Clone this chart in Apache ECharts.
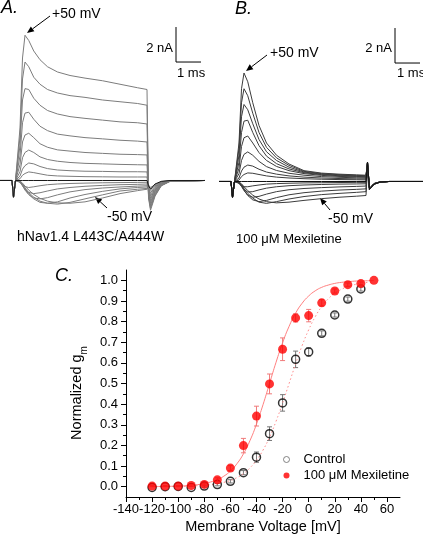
<!DOCTYPE html>
<html><head><meta charset="utf-8">
<script src="https://cdn.jsdelivr.net/npm/echarts@6/dist/echarts.min.js"></script>
<style>html,body{margin:0;padding:0;background:#fff}#c{width:423px;height:540px}</style>
</head><body><div id="c"></div>
<script>
const FONT = '"Liberation Sans", Arial, Helvetica, sans-serif';

// ---------- Panels A/B: current traces (time in ms from step onset, current in nA) ----------
const tTrace = [-0.70,-0.22,-0.16,-0.08,0,0.1,0.2,0.3,0.45,0.65,0.9,1.2,1.6,2.1,2.7,3.4,4.1,4.8,5.18,5.24,5.32,5.5,5.75,6.1,7.5];

const baseA = [0,0,-0.95,0,0, 0,0,0,0,0,0,0,0,0,0,0,0,0,0, -0.3,-0.5,-0.2,-0.05,0,0];
const outA1 = [0,0,-0.95,0,0, 3.0,7.0,8.3,8.0,7.4,6.9,6.5,6.2,6.0,5.85,5.7,5.5,5.3,5.2, -1.0,-1.7,-0.9,-0.3,-0.05,0];
const outA2 = [0,0,-0.95,0,0, 2.5,5.8,6.77,6.5,5.9,5.5,5.2,5.0,4.85,4.75,4.6,4.5,4.4,4.3, -0.9,-1.6,-0.85,-0.3,-0.05,0];
const outA3 = [0,0,-0.95,0,0, 2.0,4.6,5.25,5.2,4.7,4.3,4.0,3.8,3.65,3.55,3.45,3.35,3.3,3.23, -0.85,-1.5,-0.8,-0.28,-0.05,0];
const outA4 = [0,0,-0.95,0,0, 1.4,3.3,3.85,3.9,3.5,3.1,2.85,2.65,2.55,2.45,2.38,2.3,2.25,2.2, -0.8,-1.4,-0.75,-0.25,-0.04,0];
const outA5 = [0,0,-0.95,0,0, 0.9,2.2,2.6,2.7,2.45,2.1,1.9,1.75,1.68,1.6,1.55,1.5,1.48,1.46, -0.7,-1.3,-0.7,-0.22,-0.04,0];
const outA6 = [0,0,-0.95,0,0, 0.5,1.3,1.6,1.74,1.6,1.35,1.2,1.1,1.03,0.98,0.95,0.92,0.9,0.89, -0.65,-1.2,-0.65,-0.2,-0.03,0];
const outA7 = [0,0,-0.95,0,0, 0.25,0.65,0.85,1.0,0.95,0.8,0.68,0.6,0.56,0.53,0.52,0.5,0.5,0.49, -0.6,-1.1,-0.6,-0.18,-0.03,0];
const outA8 = [0,0,-0.95,0,0, 0.1,0.3,0.4,0.49,0.45,0.38,0.3,0.26,0.24,0.22,0.21,0.2,0.2,0.2, -0.55,-1.0,-0.55,-0.17,-0.03,0];
const inA1 = [0,0,-0.95,0,0, -0.1,-0.25,-0.35,-0.4,-0.36,-0.3,-0.24,-0.2,-0.17,-0.15,-0.13,-0.12,-0.11,-0.1, -0.5,-0.9,-0.5,-0.15,-0.03,0];
const inA2 = [0,0,-0.95,0,0, -0.1,-0.3,-0.5,-0.68,-0.75,-0.7,-0.6,-0.48,-0.4,-0.33,-0.28,-0.24,-0.22,-0.2, -0.45,-0.8,-0.45,-0.13,-0.02,0];
const inA3 = [0,0,-0.95,0,0, -0.08,-0.3,-0.55,-0.8,-1.0,-1.05,-0.98,-0.82,-0.65,-0.52,-0.43,-0.37,-0.32,-0.3, -0.4,-0.7,-0.4,-0.12,-0.02,0];
const inA4 = [0,0,-0.95,0,0, -0.05,-0.25,-0.5,-0.8,-1.05,-1.25,-1.3,-1.22,-1.0,-0.8,-0.62,-0.48,-0.4,-0.37, -0.35,-0.6,-0.35,-0.1,-0.02,0];
const inA5 = [0,0,-0.95,0,0, -0.04,-0.2,-0.42,-0.7,-0.95,-1.18,-1.3,-1.35,-1.25,-1.05,-0.82,-0.6,-0.5,-0.45, -0.3,-0.5,-0.3,-0.08,-0.01,0];
const inA6 = [0,0,-0.95,0,0, -0.03,-0.15,-0.32,-0.55,-0.8,-1.02,-1.18,-1.28,-1.3,-1.22,-1.0,-0.75,-0.58,-0.5, -0.25,-0.4,-0.25,-0.06,-0.01,0];

const baseB = [0,0,-0.9,0,0, 0,0,0,0,0,0,0,0,0,0,0,0,0,0, 1.1,-0.45,-0.15,-0.03,0,0];
const outB1 = [0,0,-0.9,0,0, 2.2,5.3,6.2,5.7,4.5,3.2,2.2,1.5,1.0,0.62,0.48,0.42,0.38,0.36, 1.1,-0.45,-0.15,-0.03,0,0];
const outB2 = [0,0,-0.9,0,0, 1.9,4.5,5.3,4.9,3.9,2.8,1.95,1.35,0.92,0.58,0.45,0.39,0.35,0.33, 1.1,-0.45,-0.15,-0.03,0,0];
const outB3 = [0,0,-0.9,0,0, 1.5,3.7,4.4,4.1,3.3,2.4,1.7,1.2,0.82,0.54,0.42,0.36,0.32,0.3, 1.1,-0.45,-0.15,-0.03,0,0];
const outB4 = [0,0,-0.9,0,0, 1.1,2.8,3.45,3.5,2.8,2.05,1.45,1.02,0.72,0.5,0.39,0.33,0.29,0.27, 1.1,-0.45,-0.15,-0.03,0,0];
const outB5 = [0,0,-0.9,0,0, 0.75,2.0,2.5,2.6,2.2,1.65,1.2,0.86,0.62,0.45,0.35,0.29,0.26,0.24, 1.1,-0.45,-0.15,-0.03,0,0];
const outB6 = [0,0,-0.9,0,0, 0.45,1.2,1.55,1.69,1.5,1.15,0.85,0.63,0.47,0.36,0.28,0.24,0.21,0.19, 1.1,-0.45,-0.15,-0.03,0,0];
const outB7 = [0,0,-0.9,0,0, 0.2,0.6,0.82,0.94,0.88,0.7,0.54,0.42,0.32,0.25,0.2,0.17,0.15,0.14, 1.1,-0.45,-0.15,-0.03,0,0];
const outB8 = [0,0,-0.9,0,0, 0.08,0.28,0.4,0.49,0.47,0.4,0.32,0.25,0.2,0.16,0.13,0.11,0.1,0.09, 1.1,-0.45,-0.15,-0.03,0,0];
const inB1 = [0,0,-0.9,0,0, -0.1,-0.22,-0.3,-0.3,-0.25,-0.2,-0.15,-0.12,-0.1,-0.08,-0.07,-0.06,-0.05,-0.05, 0.8,-0.4,-0.12,-0.02,0,0];
const inB2 = [0,0,-0.9,0,0, -0.1,-0.28,-0.45,-0.6,-0.58,-0.48,-0.38,-0.3,-0.24,-0.2,-0.17,-0.15,-0.14,-0.13, 0.8,-0.4,-0.12,-0.02,0,0];
const inB3 = [0,0,-0.9,0,0, -0.08,-0.28,-0.52,-0.78,-0.9,-0.85,-0.72,-0.58,-0.47,-0.4,-0.35,-0.31,-0.28,-0.26, 0.8,-0.4,-0.12,-0.02,0,0];
const inB4 = [0,0,-0.9,0,0, -0.05,-0.22,-0.48,-0.8,-1.05,-1.15,-1.08,-0.92,-0.76,-0.64,-0.55,-0.49,-0.45,-0.42, 0.8,-0.4,-0.12,-0.02,0,0];
const inB5 = [0,0,-0.9,0,0, -0.04,-0.18,-0.4,-0.68,-0.95,-1.18,-1.25,-1.15,-1.0,-0.86,-0.75,-0.68,-0.62,-0.58, 0.8,-0.4,-0.12,-0.02,0,0];
const inB6 = [0,0,-0.9,0,0, -0.03,-0.13,-0.3,-0.52,-0.78,-1.0,-1.15,-1.22,-1.18,-1.08,-0.98,-0.9,-0.84,-0.8, 0.8,-0.4,-0.12,-0.02,0,0];

// scale bars (1 ms, 2 nA), drawn in data units
const scaleBarT = [6.34, 6.34, 7.34];
const scaleBarI = [8.77, 6.77, 6.77];

// ---------- Panel C: normalized conductance ----------
const ctlV   = [-120,-110,-100,-90,-80,-70,-60,-50,-40,-30,-20,-10,0,10,20,30,40];
const ctlG   = [-0.004,0.0,0.001,-0.004,0.003,0.01,0.026,0.068,0.143,0.257,0.406,0.617,0.653,0.743,0.832,0.909,0.958];
const ctlErr = [0,0,0,0,0.005,0.006,0.008,0.01,0.025,0.033,0.04,0.04,0.02,0.012,0.01,0.01,0.01];
const mexV   = [-120,-110,-100,-90,-80,-70,-60,-50,-40,-30,-20,-10,0,10,20,30,40,50];
const mexG   = [0.003,0.003,0.003,0.006,0.011,0.033,0.090,0.199,0.342,0.498,0.666,0.818,0.829,0.891,0.948,0.979,0.984,1.000];
const mexErr = [0.003,0.003,0.003,0.005,0.006,0.01,0.012,0.035,0.048,0.048,0.055,0.02,0.03,0.015,0.01,0.008,0.008,0];
const fitV   = [-120,-115,-110,-105,-100,-95,-90,-85,-80,-75,-70,-65,-60,-55,-50,-45,-40,-35,-30,-25,-20,-15,-10,-5,0,5,10,15,20,25,30,35,40,45,50];
const fitMex = [0.001,0.001,0.001,0.002,0.003,0.004,0.007,0.010,0.015,0.023,0.034,0.051,0.076,0.111,0.159,0.223,0.303,0.397,0.500,0.603,0.697,0.777,0.841,0.889,0.924,0.949,0.966,0.977,0.985,0.990,0.993,0.996,0.997,0.998,0.999];
const fitCtl = [0.000,0.000,0.001,0.001,0.001,0.002,0.003,0.005,0.007,0.010,0.014,0.021,0.030,0.044,0.063,0.091,0.128,0.177,0.240,0.317,0.405,0.500,0.595,0.684,0.760,0.823,0.873,0.910,0.937,0.956,0.970,0.979,0.986,0.990,0.993];
const xTicks = [-140,-120,-100,-80,-60,-40,-20,0,20,40,60];
const xMinor = [-130,-110,-90,-70,-50,-30,-10,10,30,50];
const yTicks = [0,0.1,0.2,0.3,0.4,0.5,0.6,0.7,0.8,0.9,1.0];
const yMinor = [0.05,0.15,0.25,0.35,0.45,0.55,0.65,0.75,0.85,0.95];

// ---------- build ----------
function zip(xs, ys){ return xs.map((x,i)=>[x, ys[i]]); }
function trace(name, vals, axis, color){
  return {name, type:'line', xAxisIndex:axis, yAxisIndex:axis, data:zip(tTrace, vals),
    showSymbol:false, symbol:'none', silent:true, animation:false,
    lineStyle:{color, width:1}};
}
const series = [];
const tracesA = [inA6,inA5,inA4,inA3,inA2,inA1,outA8,outA7,outA6,outA5,outA4,outA3,outA2,outA1];
tracesA.forEach((v,i)=>series.push(trace('A'+i, v, 0, '#7c7c7c')));
series.push(trace('A base', baseA, 0, '#1a1a1a'));
const tracesB = [inB6,inB5,inB4,inB3,inB2,inB1,outB8,outB7,outB6,outB5,outB4,outB3,outB2,outB1];
tracesB.forEach((v,i)=>series.push(trace('B'+i, v, 1, '#3c3c3c')));
series.push(trace('B base', baseB, 1, '#111'));
[0,1].forEach(ax=>series.push({name:'scale'+ax, type:'line', xAxisIndex:ax, yAxisIndex:ax,
  data:zip(scaleBarT, scaleBarI), showSymbol:false, symbol:'none', silent:true, animation:false,
  lineStyle:{color:'#000', width:1}}));

function errRender(color){
  return function(params, api){
    const x = api.value(0), y = api.value(1), e = api.value(2);
    if (!e) return null;
    const hi = api.coord([x, y+e]), lo = api.coord([x, y-e]);
    const w = 2.5, st = {stroke: color, lineWidth: 1};
    return {type:'group', children:[
      {type:'line', shape:{x1:hi[0],y1:hi[1],x2:lo[0],y2:lo[1]}, style:st},
      {type:'line', shape:{x1:hi[0]-w,y1:hi[1],x2:hi[0]+w,y2:hi[1]}, style:st},
      {type:'line', shape:{x1:lo[0]-w,y1:lo[1],x2:lo[0]+w,y2:lo[1]}, style:st}
    ]};
  };
}
series.push({name:'Control fit', type:'line', xAxisIndex:2, yAxisIndex:2, data:zip(fitV, fitCtl),
  showSymbol:false, symbol:'none', smooth:true, animation:false, lineStyle:{color:'#ff8a8a', width:1, type:[1.5,2.5]}});
series.push({name:'Mexiletine fit', type:'line', xAxisIndex:2, yAxisIndex:2, data:zip(fitV, fitMex),
  showSymbol:false, symbol:'none', smooth:true, animation:false, lineStyle:{color:'#ff8080', width:1}});
series.push({name:'Control err', type:'custom', xAxisIndex:2, yAxisIndex:2, renderItem:errRender('#777'),
  data:ctlV.map((v,i)=>[v, ctlG[i], ctlErr[i]]), encode:{x:0, y:1}, animation:false, silent:true, z:3});
series.push({name:'Control', type:'scatter', xAxisIndex:2, yAxisIndex:2, data:zip(ctlV, ctlG),
  symbol:'circle', symbolSize:8, animation:false, z:4,
  itemStyle:{color:'rgba(255,255,255,0)', borderColor:'#000', borderWidth:1.5}});
series.push({name:'Mex err', type:'custom', xAxisIndex:2, yAxisIndex:2, renderItem:errRender('#f07a7a'),
  data:mexV.map((v,i)=>[v, mexG[i], mexErr[i]]), encode:{x:0, y:1}, animation:false, silent:true, z:5});
series.push({name:'100 μM Mexiletine', type:'scatter', xAxisIndex:2, yAxisIndex:2, data:zip(mexV, mexG),
  symbol:'circle', symbolSize:9, animation:false, z:6, itemStyle:{color:'#ff0000'}});

const cGrid = {left:126, top:270, width:274, height:227};
const axLine = {show:true, onZero:false, lineStyle:{color:'#000', width:1}};
const lbl = {fontSize:13, fontFamily:FONT, color:'#000'};

function arrow(x1,y1,x2,y2){
  const dx=x2-x1, dy=y2-y1, L=Math.hypot(dx,dy), ux=dx/L, uy=dy/L;
  const hl=7, hw=3, bx=x2-ux*hl, by=y2-uy*hl;
  return [
    {type:'line', shape:{x1:x1,y1:y1,x2:bx,y2:by}, style:{stroke:'#000', lineWidth:1}},
    {type:'polygon', shape:{points:[[x2,y2],[bx-uy*hw,by+ux*hw],[bx+uy*hw,by-ux*hw]]}, style:{fill:'#000'}}
  ];
}
function txt(x, y, text, size, opts){
  opts = opts || {};
  const align = opts.align || 'left';
  return {type:'text', x:x, y:y, rotation:opts.rotation||0, style:Object.assign({
    text:text, fontSize:size, fontFamily:FONT, fontStyle:opts.italic?'italic':'normal', fill:'#000',
    align:align, textAlign:align, verticalAlign:'middle', textVerticalAlign:'middle'}, opts.extra||{})};
}
const graphics = [
  txt(1, 8, 'A.', 18, {italic:true}),
  txt(235, 9, 'B.', 18, {italic:true}),
  txt(55, 276, 'C.', 18, {italic:true}),
  txt(52, 14, '+50 mV', 14),
  txt(107, 217, '-50 mV', 14),
  txt(17, 237, 'hNav1.4 L443C/A444W', 14),
  txt(173, 48, '2 nA', 13, {align:'right'}),
  txt(177, 73, '1 ms', 13),
  txt(270, 53, '+50 mV', 14),
  txt(328, 219, '-50 mV', 14),
  txt(236, 239, '100 μM Mexiletine', 13),
  txt(392, 48, '2 nA', 13, {align:'right'}),
  txt(397, 73, '1 ms', 13),
  txt(77, 393, 'Normalized g{sub|m}', 14.5, {align:'center', rotation:Math.PI/2,
    extra:{lineHeight:24, rich:{sub:{fontSize:10, fontFamily:FONT, lineHeight:10, verticalAlign:'bottom', fill:'#000'}}}})
].concat(arrow(50,16,27,33), arrow(107,208,95,197), arrow(267,55,246,71), arrow(330,210,320,198));

const option = {
  backgroundColor:'#fff',
  animation:false,
  grid:[
    {left:0, top:0, width:210, height:260},
    {left:210, top:0, width:213, height:260},
    cGrid,
    Object.assign({}, cGrid)
  ],
  xAxis:[
    {gridIndex:0, type:'value', min:-0.7, max:7.7, show:false},
    {gridIndex:1, type:'value', min:-1.06, max:7.46, show:false},
    {gridIndex:2, type:'value', min:-140, max:70, axisLine:axLine,
      axisTick:{show:true, customValues:xTicks, length:5, lineStyle:{color:'#000'}},
      axisLabel:Object.assign({show:true, customValues:xTicks, margin:6}, lbl),
      splitLine:{show:false}, name:'Membrane Voltage [mV]', nameLocation:'middle', nameGap:22,
      nameTextStyle:{fontSize:14.5, fontFamily:FONT, color:'#000'}},
    {gridIndex:3, type:'value', min:-140, max:70, axisLine:{show:false, onZero:false},
      axisTick:{show:true, customValues:xMinor, length:3, lineStyle:{color:'#000'}},
      axisLabel:{show:false}, splitLine:{show:false}}
  ],
  yAxis:[
    {gridIndex:0, type:'value', min:-4.543, max:10.314, show:false},
    {gridIndex:1, type:'value', min:-4.486, max:10.371, show:false},
    {gridIndex:2, type:'value', min:-0.05, max:1.05, axisLine:axLine,
      axisTick:{show:true, customValues:yTicks, length:5, lineStyle:{color:'#000'}},
      axisLabel:Object.assign({show:true, customValues:yTicks, margin:8, formatter:v=>v.toFixed(1)}, lbl),
      splitLine:{show:false}},
    {gridIndex:3, type:'value', min:-0.05, max:1.05, axisLine:{show:false, onZero:false},
      axisTick:{show:true, customValues:yMinor, length:3, lineStyle:{color:'#000'}},
      axisLabel:{show:false}, splitLine:{show:false}}
  ],
  legend:{
    data:[
      {name:'Control', icon:'circle', itemStyle:{color:'#fff', borderColor:'#666', borderWidth:1}},
      {name:'100 μM Mexiletine', icon:'circle', itemStyle:{color:'#ff0000', borderWidth:0}}
    ],
    orient:'vertical', left:283, top:453, itemWidth:24, itemHeight:6, itemGap:3, padding:0,
    selectedMode:false, textStyle:{fontSize:13, fontFamily:FONT, color:'#000'}
  },
  graphic:graphics,
  series:series
};
const chart = echarts.init(document.getElementById('c'), null, {renderer:'canvas'});
chart.setOption(option);
</script>
</body></html>
